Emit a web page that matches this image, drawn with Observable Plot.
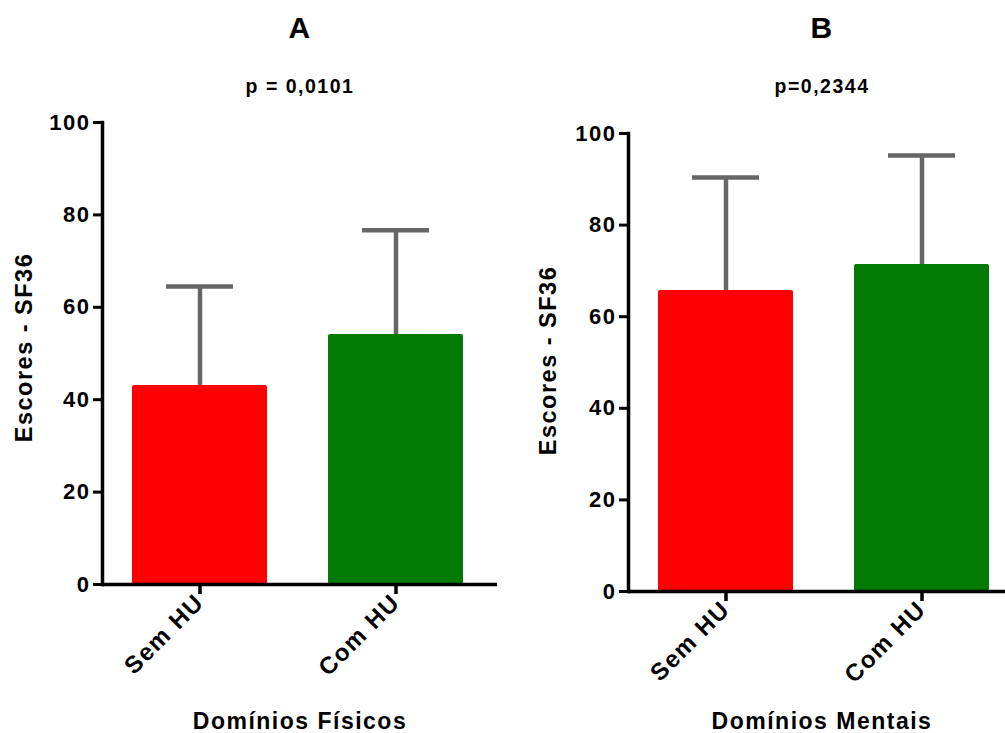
<!DOCTYPE html>
<html>
<head>
<meta charset="utf-8">
<script src="https://cdn.jsdelivr.net/npm/d3@7"></script>
<script src="https://cdn.jsdelivr.net/npm/@observablehq/plot@0.6"></script>
<style>
  html, body { margin: 0; padding: 0; background: #fff; }
  #wrap { position: relative; width: 1005px; height: 733px; overflow: hidden; }
  #wrap > div { position: absolute; top: 0; }
  #wrap svg text { letter-spacing: 1.5px; }
</style>
</head>
<body>
<div id="wrap"><div id="pa" style="left:0"></div><div id="pb" style="left:503px"></div></div>
<script>
const groups = ["Sem HU", "Com HU"];
const colors = ["#ff0000", "#037a03"];
const physMeans = [43.1, 54.1];
const physSD = [21.4, 22.6];
const mentMeans = [65.7, 71.4];
const mentSD = [24.7, 23.8];
const yTicks = [0, 20, 40, 60, 80, 100];
const panelTitles = ["A", "B"];
const pValues = ["p = 0,0101", "p=0,2344"];
const xTitles = ["Domínios Físicos", "Domínios Mentais"];
const yTitle = "Escores - SF36";

const FONT = "Liberation Sans, Arial, Helvetica, sans-serif";

function panel(means, sds, opts) {
  const data = groups.map((g, i) => ({group: g, mean: means[i], top: means[i] + sds[i], color: colors[i]}));
  const W = 502;
  const bottom = 733 - opts.mb;
  return Plot.plot({
    width: W,
    height: 733,
    marginLeft: opts.ml,
    marginRight: opts.mr,
    marginTop: opts.mt,
    marginBottom: opts.mb,
    style: {fontFamily: FONT, fontWeight: "bold", color: "#000", background: "transparent", overflow: "visible"},
    x: {domain: groups, range: [opts.ml, opts.ml + 392], paddingInner: 0.31, paddingOuter: 0.155, label: null},
    y: {domain: [0, 100], label: null},
    marks: [
      Plot.barY(data, {x: "group", y: "mean", fill: "color", rx: 2}),
      Plot.ruleX(data, {x: "group", y1: "mean", y2: "top", stroke: "#666", strokeWidth: 4.5}),
      Plot.tickY(data, {x: "group", y: "top", stroke: "#666", strokeWidth: 4.5, insetLeft: 34, insetRight: 34}),
      Plot.frame({anchor: "left", stroke: "#000", strokeWidth: 3.5}),
      Plot.ruleY([0], {stroke: "#000", strokeWidth: 3.5}),
      Plot.axisY({ticks: yTicks, tickSize: 9, tickPadding: 3, strokeWidth: 3, fontSize: 22, fontWeight: "bold", label: null, stroke: "#000"}),
      Plot.axisX({tickSize: 10, tickPadding: 4, strokeWidth: 3.5, fontSize: 24, fontWeight: "bold", tickRotate: -45, label: null, stroke: "#000"}),
      Plot.text([panelTitles[opts.i]], {frameAnchor: "top", lineAnchor: "middle", textAnchor: "middle", dx: opts.tdx, dy: 28 - opts.mt, fontSize: 30, fontWeight: "bold", fill: "#000"}),
      Plot.text([pValues[opts.i]], {frameAnchor: "top", lineAnchor: "middle", textAnchor: "middle", dx: opts.tdx, dy: 86 - opts.mt, fontSize: 19.5, fontWeight: "bold", fill: "#000"}),
      Plot.text([yTitle], {frameAnchor: "left", lineAnchor: "middle", textAnchor: "middle", rotate: -90, dx: opts.ydx, dy: opts.ydy, fontSize: 23.5, fontWeight: "bold", fill: "#000"}),
      Plot.text([xTitles[opts.i]], {frameAnchor: "bottom", lineAnchor: "middle", textAnchor: "middle", dx: opts.tdx, dy: 721 - bottom, fontSize: 23, fontWeight: "bold", fill: "#000"})
    ]
  });
}

document.getElementById("pa").append(panel(physMeans, physSD, {i: 0, ml: 102, mr: 5, mt: 122, mb: 149, tdx: 0, ydx: -78, ydy: -6}));
document.getElementById("pb").append(panel(mentMeans, mentSD, {i: 1, ml: 125, mr: 0, mt: 133, mb: 142, tdx: 5, ydx: -80, ydy: -2}));
</script>
</body>
</html>
